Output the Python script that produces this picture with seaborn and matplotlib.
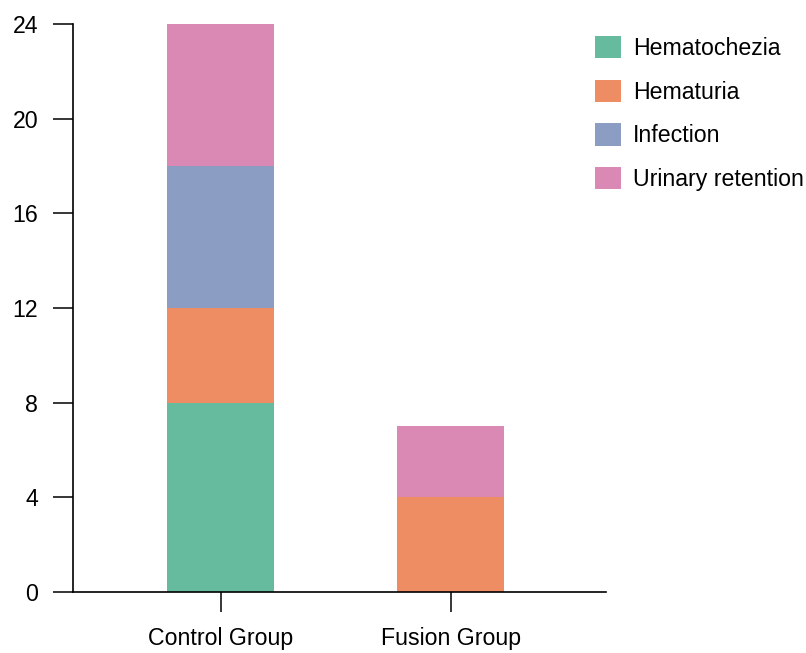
import numpy as np
import pandas as pd
import matplotlib
matplotlib.use("Agg")
import matplotlib.pyplot as plt
import seaborn as sns

# data
groups = ["Control Group", "Fusion Group"]
complications = ["Hematochezia", "Hematuria", "Infection", "Urinary retention"]
hematochezia = [8, 0]
hematuria = [4, 4]
infection = [6, 0]
urinary_retention = [6, 3]
colors = ["#66bb9f", "#ee8c63", "#8c9dc4", "#da88b4"]
yticks = [0, 4, 8, 12, 16, 20, 24]

sns.set_style("ticks")
plt.rcParams["font.family"] = ["Liberation Sans", "DejaVu Sans"]
plt.rcParams["text.color"] = "black"
plt.rcParams["xtick.color"] = "black"
plt.rcParams["ytick.color"] = "black"

df = pd.DataFrame({"group": groups,
                   "Hematochezia": hematochezia,
                   "Hematuria": hematuria,
                   "Infection": infection,
                   "Urinary retention": urinary_retention})
# cumulative heights for stacking
cum = df[complications].cumsum(axis=1)

fig = plt.figure(figsize=(8.06, 6.53), dpi=100)
ax = fig.add_axes([73/806, 61/653, (606-73)/806, (592-24)/653])

# draw top layer first so lower layers cover it
for name, col in reversed(list(zip(complications, colors))):
    sns.barplot(x=df["group"], y=cum[name], color=col, width=0.465,
                saturation=1, ax=ax, label=name, linewidth=0)

ax.set_xlim(-0.643, 1.674)
ax.set_ylim(0, 24)
ax.set_yticks(yticks)
ax.set_xlabel("")
ax.set_ylabel("")
sns.despine(ax=ax)
for s in ["left", "bottom"]:
    ax.spines[s].set_linewidth(1.2)
    ax.spines[s].set_color("black")
ax.tick_params(axis="both", direction="out", length=14.5, width=1.1,
               color="black", labelcolor="black", labelsize=16.7,
               bottom=True, left=True)
ax.tick_params(axis="x", pad=11)
ax.tick_params(axis="y", pad=10.5)

h, l = ax.get_legend_handles_labels()
order = [l.index(c) for c in complications]
fig.legend([h[i] for i in order], complications, loc="upper left",
           bbox_to_anchor=(595/806, 1 - 36/653), frameon=False, fontsize=16.7,
           handlelength=1.1, handleheight=1.1, handletextpad=0.55,
           labelspacing=0.85, borderpad=0, borderaxespad=0)
if ax.get_legend():
    ax.get_legend().remove()

fig.savefig("out.png", dpi=100)
